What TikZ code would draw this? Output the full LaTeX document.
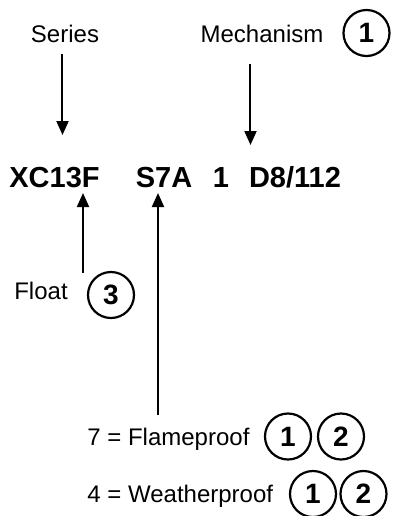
\documentclass[tikz,border=0pt]{standalone}
\usepackage{fontspec}
\setmainfont{Liberation Sans}
\usetikzlibrary{arrows.meta}

\begin{document}
\begin{tikzpicture}[x=0.5pt,y=-0.5pt,
  font=\fontsize{12}{14}\selectfont,
  lbl/.style={inner sep=0pt,anchor=base},
  code/.style={inner sep=0pt,anchor=base,font=\fontsize{14.5}{16}\selectfont\bfseries},
  num/.style={draw,circle,line width=1.1pt,minimum size=23pt,inner sep=0pt,
              font=\fontsize{14}{16}\selectfont\bfseries},
  ar/.style={line width=1pt,-{Triangle[length=7pt,width=6pt]}}]
\useasboundingbox (0,0) rectangle (396,516);
% top labels
\node[lbl] (ser) at (65,42) {Series};
\node[lbl] (mech) at (262,42) {Mechanism};
\node[num] (m1) at (366.5,33) {1};
% code line
\node[code] (xc) at (54.5,187) {XC13F};
\node[code] (s7a) at (164,187) {S7A};
\node[code] (one) at (221,187) {1};
\node[code] (d8) at (295,187) {D8/112};
% lower labels
\node[lbl] (flt) at (41,299) {Float};
\node[num] (f3) at (111,295) {3};
\node[lbl,anchor=base west] (flame) at (87,445) {7 = Flameproof};
\node[num] (fp1) at (288,436.5) {1};
\node[num] (fp2) at (341,436.5) {2};
\node[lbl,anchor=base west] (weather) at (87,502) {4 = Weatherproof};
\node[num] (wp1) at (313,494) {1};
\node[num] (wp2) at (363.5,494) {2};
% arrow ends
\coordinate (sertip) at (62.5,135);
\coordinate (mechtip) at (250.5,145);
\coordinate (flttip) at (83,193);
\coordinate (flttail) at (83,273);
\coordinate (s7tip) at (158,193);
\coordinate (s7tail) at (158,415);
\draw[ar] (sertip |- ser.south) ++(0,11) -- (sertip);
\draw[ar] (mechtip |- mech.south) ++(0,21) -- (mechtip);
\draw[ar] (flttail) -- (flttip);
\draw[ar] (s7tail) -- (s7tip);
\end{tikzpicture}
\end{document}
